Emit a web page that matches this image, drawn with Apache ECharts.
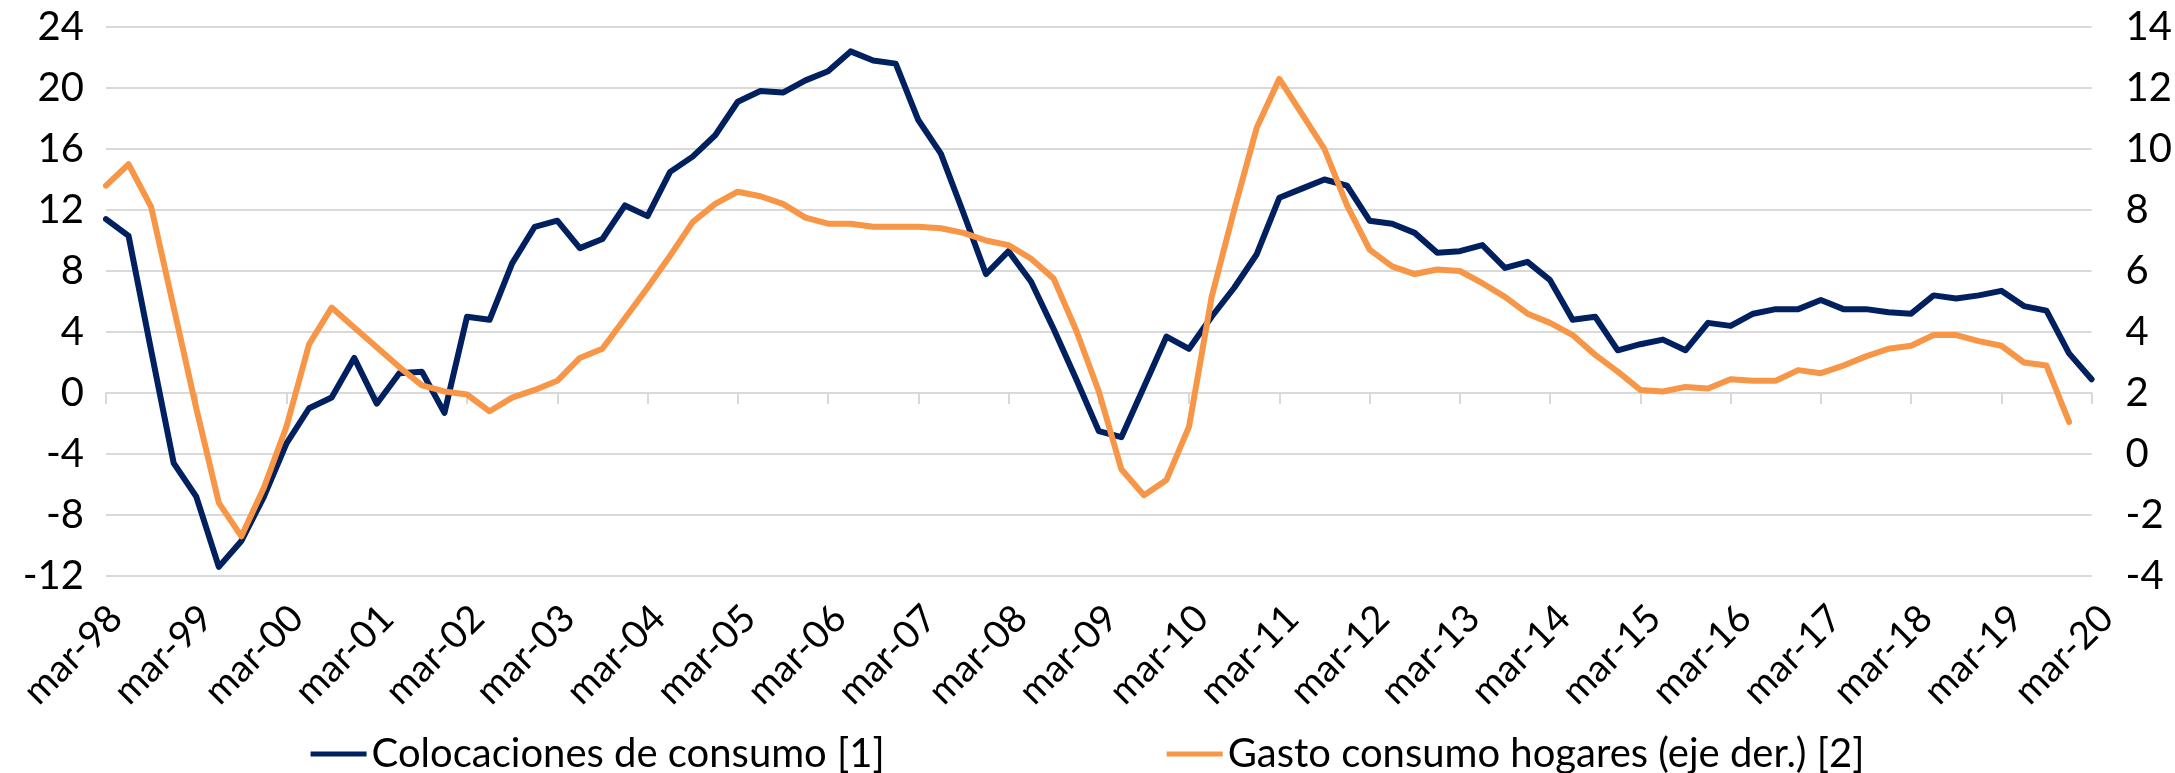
<!DOCTYPE html>
<html>
<head>
<meta charset="utf-8">
<script src="https://cdn.jsdelivr.net/npm/echarts@6/dist/echarts.min.js"></script>
<style>
  html, body { margin: 0; padding: 0; background: #fff; }
  #chart { width: 2175px; height: 773px; }
</style>
</head>
<body>
<div id="chart"></div>
<script>
// trimestres mar-98 .. mar-20
const years = ['98','99','00','01','02','03','04','05','06','07','08','09','10','11','12','13','14','15','16','17','18','19','20'];
const months = ['mar', 'jun', 'sep', 'dic'];
const categories = [];
years.forEach((y, i) => {
    months.forEach((m, j) => {
        if (i < years.length - 1 || j === 0) categories.push(m + '-' + y);
    });
});

// Colocaciones de consumo [1] (eje izq.)
const colocaciones = [
    11.4, 10.3, 2.8, -4.6, -6.8, -11.4, -9.7, -6.8, -3.3, -1.0,
    -0.3, 2.3, -0.7, 1.3, 1.4, -1.3, 5.0, 4.8, 8.5, 10.9,
    11.3, 9.5, 10.1, 12.3, 11.6, 14.5, 15.5, 16.9, 19.1, 19.8,
    19.7, 20.5, 21.1, 22.4, 21.8, 21.6, 17.9, 15.7, 11.8, 7.8,
    9.3, 7.3, 4.2, 0.9, -2.5, -2.9, 0.4, 3.7, 2.9, 5.0,
    6.9, 9.1, 12.8, 13.4, 14.0, 13.6, 11.3, 11.1, 10.5, 9.2,
    9.3, 9.7, 8.2, 8.6, 7.4, 4.8, 5.0, 2.8, 3.2, 3.5,
    2.8, 4.6, 4.4, 5.2, 5.5, 5.5, 6.1, 5.5, 5.5, 5.3,
    5.2, 6.4, 6.2, 6.4, 6.7, 5.7, 5.4, 2.6, 0.9
];

// Gasto consumo hogares (eje der.) [2]
const gastoHogares = [
    8.8, 9.5, 8.1, 4.8, 1.5, -1.6, -2.7, -1.1, 0.9, 3.6,
    4.8, 4.15, 3.5, 2.85, 2.25, 2.05, 1.95, 1.4, 1.85, 2.1,
    2.4, 3.15, 3.45, 4.45, 5.45, 6.5, 7.6, 8.2, 8.6, 8.45,
    8.2, 7.75, 7.55, 7.55, 7.45, 7.45, 7.45, 7.4, 7.25, 7.0,
    6.85, 6.4, 5.75, 4.05, 2.05, -0.5, -1.35, -0.85, 0.9, 5.15,
    8.0, 10.7, 12.3, 11.15, 10.0, 8.15, 6.7, 6.15, 5.9, 6.05,
    6.0, 5.6, 5.15, 4.6, 4.3, 3.9, 3.25, 2.7, 2.1, 2.05,
    2.2, 2.15, 2.45, 2.4, 2.4, 2.75, 2.65, 2.9, 3.2, 3.45,
    3.55, 3.9, 3.9, 3.7, 3.55, 3.0, 2.9, 1.05, null
];

const seriesNames = ['Colocaciones de consumo [1]', 'Gasto consumo hogares (eje der.) [2]'];
const colors = ['#002060', '#F79646'];

const FONT = 'Lato, "Liberation Sans", sans-serif';
const gridColor = '#D9D9D9';

const myChart = echarts.init(document.getElementById('chart'), null, { renderer: 'canvas' });

const option = {
    animation: false,
    color: colors,
    textStyle: { fontFamily: FONT },
    grid: [
        { left: 106, right: 78, top: 27, bottom: 197 },
        // solo para las etiquetas del eje x (algo corridas a la derecha, como en Excel)
        { left: 116, right: 68, top: 27, bottom: 197 }
    ],
    legend: {
        data: seriesNames,
        top: 729,
        left: 'center',
        icon: 'rect',
        itemWidth: 56,
        itemHeight: 5,
        itemGap: 282,
        textStyle: { fontSize: 40, color: '#000', fontFamily: FONT }
    },
    xAxis: [
        {
            // eje en cero con las marcas
            type: 'category',
            gridIndex: 0,
            data: categories,
            boundaryGap: false,
            axisLine: { onZero: true, lineStyle: { color: gridColor, width: 2 } },
            axisTick: { interval: 3, length: 11, lineStyle: { color: gridColor, width: 2 } },
            axisLabel: { show: false },
            splitLine: { show: false }
        },
        {
            // etiquetas abajo
            type: 'category',
            gridIndex: 1,
            data: categories,
            boundaryGap: false,
            position: 'bottom',
            axisLine: { show: false, onZero: false },
            axisTick: { show: false },
            axisLabel: {
                interval: 3,
                rotate: 45,
                margin: 36,
                fontSize: 38,
                color: '#000',
                fontFamily: FONT
            },
            splitLine: { show: false }
        }
    ],
    yAxis: [
        {
            type: 'value',
            gridIndex: 0,
            min: -12,
            max: 24,
            interval: 4,
            axisLine: { show: false },
            axisTick: { show: false },
            axisLabel: { fontSize: 40, color: '#000', margin: 22, fontFamily: FONT },
            splitLine: { lineStyle: { color: gridColor, width: 2 } }
        },
        {
            type: 'value',
            gridIndex: 0,
            min: -4,
            max: 14,
            interval: 2,
            position: 'right',
            axisLine: { show: false },
            axisTick: { show: false },
            axisLabel: { fontSize: 40, color: '#000', margin: 34, fontFamily: FONT },
            splitLine: { show: false }
        },
        {
            type: 'value',
            gridIndex: 1,
            show: false
        }
    ],
    series: [
        {
            name: seriesNames[0],
            type: 'line',
            xAxisIndex: 0,
            yAxisIndex: 0,
            data: colocaciones,
            showSymbol: false,
            symbol: 'none',
            lineStyle: { width: 6, color: colors[0], join: 'round', cap: 'round' }
        },
        {
            name: seriesNames[1],
            type: 'line',
            xAxisIndex: 0,
            yAxisIndex: 1,
            data: gastoHogares,
            showSymbol: false,
            symbol: 'none',
            lineStyle: { width: 6, color: colors[1], join: 'round', cap: 'round' }
        }
    ]
};

myChart.setOption(option);
window.addEventListener('resize', function () {
    myChart.resize();
});
</script>
</body>
</html>
